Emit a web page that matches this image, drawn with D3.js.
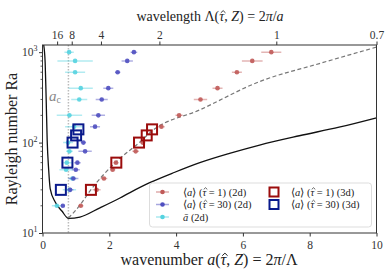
<!DOCTYPE html>
<html><head><meta charset="utf-8">
<script src="https://cdn.jsdelivr.net/npm/d3@7"></script>
<style>body{margin:0;background:#fff}svg{display:block}text{font-family:"Liberation Serif",serif;fill:#222}</style>
</head><body><div id="c"></div>
<script>
// ---- data ----
const raLevels = [1000, 800, 600, 400, 300, 200, 150, 100, 80, 60, 50, 40, 30, 20];
const redA   = [6.85, 6.28, 5.82, 5.24, 4.73, 4.09, 3.56, 3.0, 2.79, 2.2, 2.10, 1.84, 1.62, 1.146];
const redErr = [0.3, 0.31, 0.15, 0.15, 0.2, 0.11, 0.1, 0.08, 0.1, 0.08, 0.08, 0.1, 0.12, 0.08];
const blueA  = [2.737, 2.537, 2.25, 1.97, 1.773, 1.672, 1.573, 1.224, 1.275, 1.045, 0.997, 0.925, 0.827, 0.609];
const blueErr= [0.1, 0.17, 0.08, 0.15, 0.18, 0.2, 0.15, 0.08, 0.2, 0.1, 0.12, 0.15, 0.1, 0.05];
const cyanA  = [0.797, 0.976, 0.976, 1.146, 1.10, 0.806, 0.946, 0.767, 0.806, 0.728, 0.707, 0.896, 0.806, 0.43];
const cyanErr= [0.14, 0.53, 0.3, 0.36, 0.24, 0.38, 0.27, 0.15, 0.1, 0.15, 0.2, 0.12, 0.2, 0.15];
const sqRa = [140, 120, 100, 60, 30];
const sqRedA = [3.28, 3.12, 2.89, 2.21, 1.45];
const sqBlueA = [1.075, 1.006, 0.90, 0.746, 0.55];
const curveA  = [0.036, 0.08, 0.11, 0.14, 0.185, 0.23, 0.38, 0.58, 0.78, 1.12, 1.72, 2.32, 2.62, 3.21, 3.96, 4.71, 5.6, 6.5, 7.69, 8.88, 10];
const curveRa = [1200, 760, 300, 107, 50, 31, 22, 17.5, 14.5, 15, 19, 24.4, 28, 36, 47, 60, 76, 94, 119, 148, 188];
const dashA  = [0.776, 1.125, 1.424, 2.2, 2.887, 3.275, 4.71, 6.5, 8.29, 10];
const dashRa = [14.66, 20.4, 29.2, 61.1, 99.2, 134, 230, 473, 748, 1137];
const aCrit = 0.776;
const xTicks = [0, 2, 4, 6, 8, 10];
const yTicks = [10, 100, 1000];
const lambdaTicks = [16, 8, 4, 2, 1, 0.7];
const lambdaPos = [0.4375, 0.875, 1.75, 3.5, 7.0, 10.0];

const W = 390, H = 273;
const m = {l: 42.5, r: 376.5, t: 45, b: 233};
const FONT = '"Liberation Serif", serif';
const svg = d3.select("#c").append("svg").attr("width", W).attr("height", H);
const x = d3.scaleLinear().domain([0, 10]).range([m.l, m.r]);
const y = d3.scaleLog().domain([10, 1200]).range([m.b, m.t]);

const cRed = "#c05a58", cBlue = "#4f4fc0", cCyan = "#55d3e0";

svg.append("clipPath").attr("id", "cp").append("rect")
  .attr("x", m.l).attr("y", m.t).attr("width", m.r - m.l).attr("height", m.b - m.t);
const g = svg.append("g").attr("clip-path", "url(#cp)");

// critical line
g.append("line").attr("x1", x(aCrit)).attr("x2", x(aCrit)).attr("y1", m.t).attr("y2", m.b)
  .attr("stroke", "#bbb").attr("stroke-width", 1.5).attr("stroke-dasharray", "1.5,1.5");

const line = d3.line().x(d => x(d[0])).y(d => y(d[1])).curve(d3.curveMonotoneX);
g.append("path").attr("d", line(curveA.map((a, i) => [a, curveRa[i]])))
  .attr("fill", "none").attr("stroke", "#111").attr("stroke-width", 1.3);
g.append("path").attr("d", line(dashA.map((a, i) => [a, dashRa[i]])))
  .attr("fill", "none").attr("stroke", "#777").attr("stroke-width", 1.2).attr("stroke-dasharray", "4,2.5");

function series(A, E, col) {
  const s = g.append("g");
  A.forEach((a, i) => {
    s.append("line").attr("x1", x(a - E[i])).attr("x2", x(a + E[i]))
      .attr("y1", y(raLevels[i])).attr("y2", y(raLevels[i]))
      .attr("stroke", col).attr("stroke-opacity", 0.45).attr("stroke-width", 1.5);
    s.append("circle").attr("cx", x(a)).attr("cy", y(raLevels[i])).attr("r", 2.3)
      .attr("fill", col).attr("fill-opacity", 0.9);
  });
}
series(cyanA, cyanErr, cCyan);
series(blueA, blueErr, cBlue);
series(redA, redErr, cRed);

function squares(A, col) {
  g.selectAll(null).data(A).enter().append("rect")
    .attr("x", (d) => x(d) - 5).attr("y", (d, i) => y(sqRa[i]) - 5)
    .attr("width", 10).attr("height", 10).attr("fill", "none")
    .attr("stroke", col).attr("stroke-width", 2);
}
squares(sqRedA, "#9b0c0c");
squares(sqBlueA, "#0a1a8c");

// a_c label
const ac = svg.append("text").attr("x", 49).attr("y", 101).style("fill", "#888").attr("font-size", 15);
ac.append("tspan").attr("font-style", "italic").text("a");
ac.append("tspan").attr("font-size", 10).attr("dy", 2).text("c");

// frame
svg.append("rect").attr("x", m.l).attr("y", m.t).attr("width", m.r - m.l).attr("height", m.b - m.t)
  .attr("fill", "none").attr("stroke", "#333").attr("stroke-width", 1);

// bottom axis
const xa = svg.append("g").attr("transform", `translate(0,${m.b})`)
  .call(d3.axisBottom(x).tickValues(xTicks).tickSize(3.5).tickFormat(d3.format("d")));
xa.select(".domain").remove();
xa.selectAll("text").attr("font-size", 11.5).style("font-family", FONT).attr("dy", "0.85em").style("fill", "#333");
xa.selectAll("line").attr("stroke", "#333");

// top axis
const ta = svg.append("g").attr("transform", `translate(0,${m.t})`)
  .call(d3.axisTop(x).tickValues(lambdaPos).tickSize(3.5).tickFormat((d, i) => lambdaTicks[i]));
ta.select(".domain").remove();
ta.selectAll("text").attr("font-size", 11.5).style("font-family", FONT).style("fill", "#333");
ta.selectAll("line").attr("stroke", "#333");

// left axis
const ya = svg.append("g").attr("transform", `translate(${m.l},0)`)
  .call(d3.axisLeft(y).tickValues(yTicks).tickSize(3.5).tickFormat(""));
ya.select(".domain").remove();
ya.selectAll("line").attr("stroke", "#333");
const minor = [];
[10, 100, 1000].forEach(dec => { for (let k = 2; k <= 9; k++) { if (dec * k <= 1200) minor.push(dec * k); } });
svg.append("g").selectAll(null).data(minor).enter().append("line")
  .attr("x1", m.l - 2).attr("x2", m.l).attr("y1", d => y(d)).attr("y2", d => y(d)).attr("stroke", "#333").attr("stroke-width", 0.8);
yTicks.forEach(v => {
  const t = svg.append("text").attr("x", m.l - 5).attr("y", y(v) + 4).attr("text-anchor", "end").attr("font-size", 11.5).style("fill", "#333");
  t.append("tspan").text("10");
  t.append("tspan").attr("font-size", 8).attr("dy", -5).text(Math.round(Math.log10(v)));
});

// math-ish text: parts [text, italic, hat]; hats drawn as small paths
const hats = [];
function mathText(sel, parts, baseY, fs) {
  parts.forEach(p => {
    const ts = sel.append("tspan").text(p[0]);
    if (p[1]) ts.attr("font-style", "italic");
    if (p[2]) hats.push({node: ts.node(), baseY, fs});
  });
}
const bt = svg.append("text").attr("x", 209).attr("y", 265).attr("text-anchor", "middle").attr("font-size", 16).style("fill", "#222");
mathText(bt, [["wavenumber "], ["a", 1], ["("], ["τ", 1, 1], [", "], ["Z", 1], [") = 2"], ["π", 1], ["/Λ"]], 265, 16);
const tt = svg.append("text").attr("x", 210).attr("y", 21).attr("text-anchor", "middle").attr("font-size", 14).style("fill", "#222");
mathText(tt, [["wavelength Λ("], ["τ", 1, 1], [", "], ["Z", 1], [") = 2"], ["π", 1], ["/"], ["a", 1]], 21, 14);
svg.append("text").attr("transform", `translate(17,${(m.t + m.b) / 2}) rotate(-90)`).attr("text-anchor", "middle")
  .attr("font-size", 16).style("fill", "#222").text("Rayleigh number Ra");

// legend
const lg = svg.append("g");
lg.append("rect").attr("x", 149.5).attr("y", 183).attr("width", 222).attr("height", 44).attr("rx", 3)
  .attr("fill", "#fff").attr("fill-opacity", 0.8).attr("stroke", "#ddd").attr("stroke-width", 1);
const rows = [192, 204.5, 217];
const legItems = [
  {col: cRed, parts: [["⟨"], ["a", 1], ["⟩ ("], ["τ", 1, 1], [" = 1) (2d)"]]},
  {col: cBlue, parts: [["⟨"], ["a", 1], ["⟩ ("], ["τ", 1, 1], [" = 30) (2d)"]]},
  {col: cCyan, parts: [["ā", 1], [" (2d)"]]}
];
legItems.forEach((it, i) => {
  lg.append("line").attr("x1", 156).attr("x2", 169).attr("y1", rows[i]).attr("y2", rows[i])
    .attr("stroke", it.col).attr("stroke-opacity", 0.5).attr("stroke-width", 1.5);
  lg.append("circle").attr("cx", 162.5).attr("cy", rows[i]).attr("r", 2.3).attr("fill", it.col);
  const t = lg.append("text").attr("x", 183).attr("y", rows[i] + 3.5).attr("font-size", 10.5).style("fill", "#222");
  mathText(t, it.parts, rows[i] + 3.5, 10.5);
});
const legSq = [
  {col: "#9b0c0c", parts: [["⟨"], ["a", 1], ["⟩ ("], ["τ", 1, 1], [" = 1) (3d)"]]},
  {col: "#0a1a8c", parts: [["⟨"], ["a", 1], ["⟩ ("], ["τ", 1, 1], [" = 30) (3d)"]]}
];
legSq.forEach((it, i) => {
  lg.append("rect").attr("x", 269.5).attr("y", rows[i] - 4.5).attr("width", 9).attr("height", 9)
    .attr("fill", "none").attr("stroke", it.col).attr("stroke-width", 2);
  const t = lg.append("text").attr("x", 291).attr("y", rows[i] + 3.5).attr("font-size", 10.5).style("fill", "#222");
  mathText(t, it.parts, rows[i] + 3.5, 10.5);
});

// draw hats over tau
hats.forEach(h => {
  const b = h.node.getBBox();
  const cx = b.x + b.width / 2 + 0.06 * h.fs;
  const top = h.baseY - 0.74 * h.fs, foot = h.baseY - 0.58 * h.fs, hw = 0.17 * h.fs;
  svg.append("path").attr("d", `M${cx - hw},${foot} L${cx},${top} L${cx + hw},${foot}`)
    .attr("fill", "none").attr("stroke", "#222").attr("stroke-width", Math.max(0.7, h.fs / 16));
});
</script></body></html>
